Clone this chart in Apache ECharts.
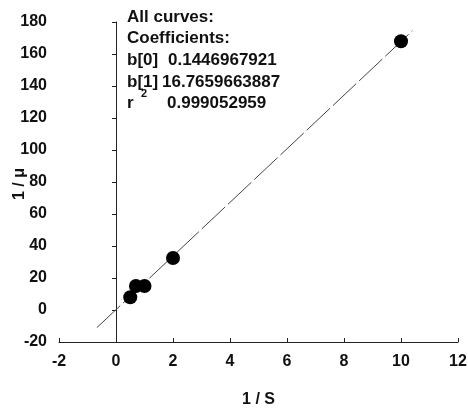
<!DOCTYPE html>
<html>
<head>
<meta charset="utf-8">
<script src="https://cdn.jsdelivr.net/npm/echarts@6/dist/echarts.min.js"></script>
<style>
  html, body { margin: 0; padding: 0; background: #fff; }
  #chart { width: 468px; height: 412px; }
</style>
</head>
<body>
<div id="chart"></div>
<script>
// measured points (1/S, 1/mu)
const invS = [0.5, 0.7, 1.0, 2.0, 10.0];
const invMu = [8, 15, 15, 32.5, 168];
// fitted line, end points
const fitX = [-0.67, 10.4];
const fitY = [-11, 174.5];
// coefficient box
const coefLabels = ['b[0]', 'b[1]', 'r'];
const coefValues = ['0.1446967921', '16.7659663887', '0.999052959'];

const font = '"Liberation Sans", Arial, sans-serif';
const ink = '#111';

const chart = echarts.init(document.getElementById('chart'));

const option = {
  backgroundColor: '#fff',
  animation: false,
  grid: { left: 59, right: 10, top: 22, bottom: 70, containLabel: false, outerBoundsMode: 'none' },
  xAxis: {
    type: 'value',
    min: -2,
    max: 12,
    interval: 2,
    name: '1 / S',
    nameLocation: 'middle',
    nameGap: 50,
    nameTextStyle: { fontFamily: font, fontWeight: 'bold', fontSize: 16, color: ink },
    axisLine: { onZero: false, lineStyle: { color: '#222', width: 1 } },
    axisTick: { inside: true, length: 4, lineStyle: { color: '#222' } },
    axisLabel: { margin: 12, fontFamily: font, fontWeight: 'bold', fontSize: 16, color: ink },
    splitLine: { show: false }
  },
  yAxis: {
    type: 'value',
    min: -20,
    max: 180,
    interval: 20,
    axisLine: { onZero: true, lineStyle: { color: '#222', width: 1 } },
    axisTick: { inside: false, length: 4, lineStyle: { color: '#222' } },
    axisLabel: { margin: 12, fontFamily: font, fontWeight: 'bold', fontSize: 16, color: ink },
    splitLine: { show: false }
  },
  graphic: [
    // y axis title
    { type: 'text', x: 20, y: 184, rotation: Math.PI / 2, style: { text: '1 / \u03bc', font: 'bold 16px ' + font, fill: ink, align: 'center', verticalAlign: 'middle' } },
    { type: 'text', x: 127, y: 17, style: { text: 'All curves:', font: 'bold 17px ' + font, fill: ink, verticalAlign: 'middle' } },
    { type: 'text', x: 127, y: 38, style: { text: 'Coefficients:', font: 'bold 17px ' + font, fill: ink, verticalAlign: 'middle' } },
    { type: 'text', x: 127, y: 60, style: { text: coefLabels[0], font: 'bold 17px ' + font, fill: ink, verticalAlign: 'middle' } },
    { type: 'text', x: 168, y: 60, style: { text: coefValues[0], font: 'bold 17px ' + font, fill: ink, verticalAlign: 'middle' } },
    { type: 'text', x: 127, y: 82, style: { text: coefLabels[1], font: 'bold 17px ' + font, fill: ink, verticalAlign: 'middle' } },
    { type: 'text', x: 162, y: 82, style: { text: coefValues[1], font: 'bold 17px ' + font, fill: ink, verticalAlign: 'middle' } },
    { type: 'text', x: 127, y: 103, style: { text: coefLabels[2], font: 'bold 17px ' + font, fill: ink, verticalAlign: 'middle' } },
    { type: 'text', x: 141, y: 94, style: { text: '2', font: 'bold 11px ' + font, fill: ink, verticalAlign: 'middle' } },
    { type: 'text', x: 167, y: 103, style: { text: coefValues[2], font: 'bold 17px ' + font, fill: ink, verticalAlign: 'middle' } }
  ],
  series: [
    {
      type: 'line',
      data: fitX.map((x, i) => [x, fitY[i]]),
      showSymbol: false,
      lineStyle: { color: '#444', width: 1, type: [32, 4] },
      z: 1
    },
    {
      type: 'scatter',
      data: invS.map((x, i) => [x, invMu[i]]),
      symbol: 'circle',
      symbolSize: 14,
      itemStyle: { color: '#000', opacity: 1 },
      z: 2
    }
  ]
};

chart.setOption(option);
window.addEventListener('resize', function () {
  chart.resize();
});
</script>
</body>
</html>
